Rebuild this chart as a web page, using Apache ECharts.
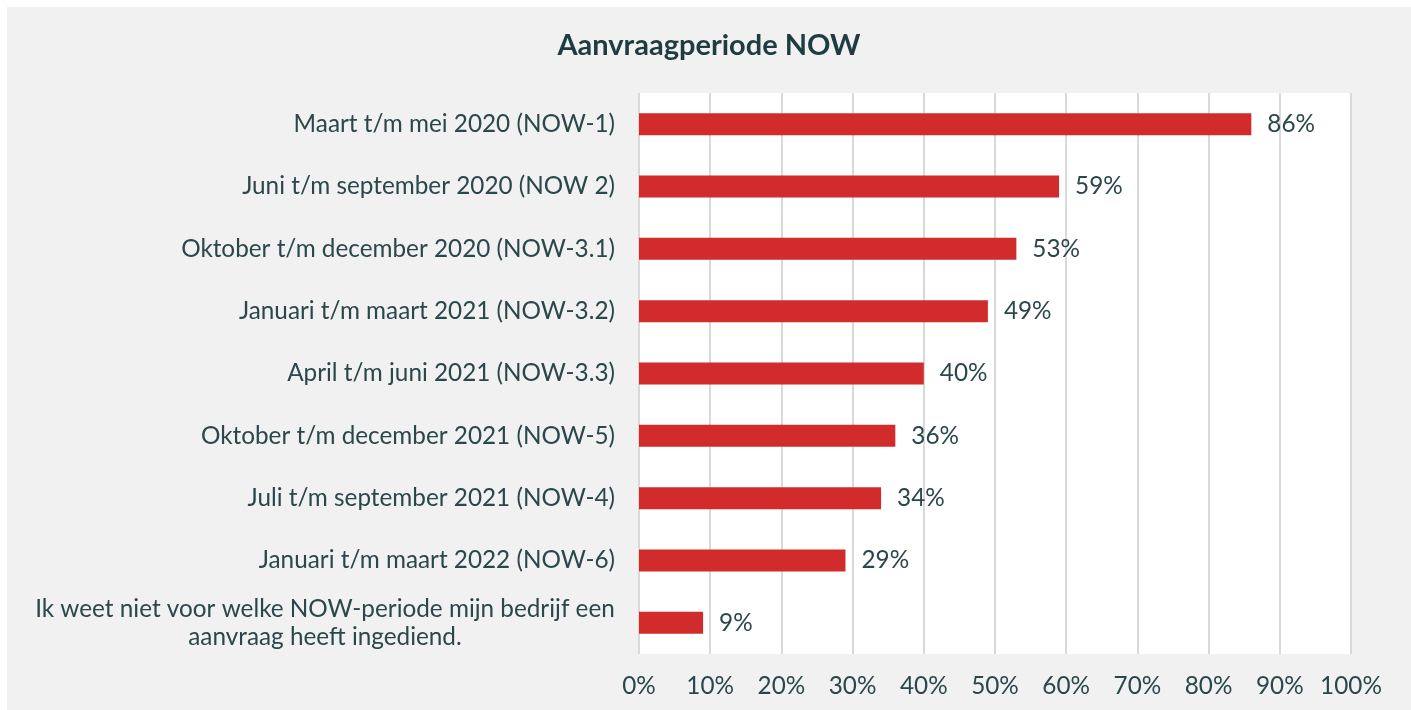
<!DOCTYPE html>
<html>
<head>
<meta charset="utf-8">
<title>Aanvraagperiode NOW</title>
<script src="https://cdn.jsdelivr.net/npm/echarts@6/dist/echarts.min.js"></script>
<style>
    html, body { margin: 0; padding: 0; background: #fff; }
    #main { position: absolute; left: 7px; top: 7px; width: 1404px; height: 703px; }
</style>
</head>
<body>
<div id="main"></div>
<script>
var categories = [
    'Maart t/m mei 2020 (NOW-1)',
    'Juni t/m september 2020 (NOW 2)',
    'Oktober t/m december 2020 (NOW-3.1)',
    'Januari t/m maart 2021 (NOW-3.2)',
    'April t/m juni 2021 (NOW-3.3)',
    'Oktober t/m december 2021 (NOW-5)',
    'Juli t/m september 2021 (NOW-4)',
    'Januari t/m maart 2022 (NOW-6)',
    'Ik weet niet voor welke NOW-periode mijn bedrijf een\naanvraag heeft ingediend.'
];
var values = [86, 59, 53, 49, 40, 36, 34, 29, 9];

var textColor = '#2b474c';
var fontSize = 24.3;

var myChart = echarts.init(document.getElementById('main'));

var option = {
    backgroundColor: '#f1f1f1',
    title: {
        text: 'Aanvraagperiode NOW',
        left: 'center',
        top: 19,
        textStyle: {
            color: '#1f3c42',
            fontSize: 29,
            fontWeight: 'bold',
            fontFamily: 'Lato'
        }
    },
    grid: {
        left: 632,
        right: 60,
        top: 86,
        bottom: 56,
        show: true,
        backgroundColor: '#ffffff',
        borderWidth: 0
    },
    xAxis: {
        type: 'value',
        min: 0,
        max: 100,
        interval: 10,
        axisLine: {show: false},
        axisTick: {show: false},
        splitLine: {
            lineStyle: {color: '#d9d9d9', width: 2}
        },
        axisLabel: {
            formatter: '{value}%',
            color: textColor,
            fontSize: fontSize,
            fontFamily: 'Lato',
            margin: 20
        }
    },
    yAxis: {
        type: 'category',
        inverse: true,
        data: categories,
        axisLine: {show: false},
        axisTick: {show: false},
        axisLabel: {
            color: textColor,
            fontSize: fontSize,
            fontFamily: 'Lato',
            margin: 24,
            lineHeight: 28,
            formatter: function (v) {
                // centre the two lines of the long label
                if (v.indexOf('\n') >= 0) {
                    return v.split('\n').map(function (s) {
                        return '{c|' + s + '}';
                    }).join('\n');
                }
                return v;
            },
            rich: {
                c: {
                    width: 580,
                    align: 'center',
                    color: textColor,
                    fontSize: fontSize,
                    fontFamily: 'Lato',
                    lineHeight: 28
                }
            }
        }
    },
    series: [
        {
            type: 'bar',
            data: values,
            barWidth: 22,
            itemStyle: {color: '#d22b2b'},
            label: {
                show: true,
                position: 'right',
                distance: 16,
                formatter: '{c}%',
                color: textColor,
                fontSize: fontSize,
                fontFamily: 'Lato'
            }
        }
    ]
};

myChart.setOption(option);
</script>
</body>
</html>
